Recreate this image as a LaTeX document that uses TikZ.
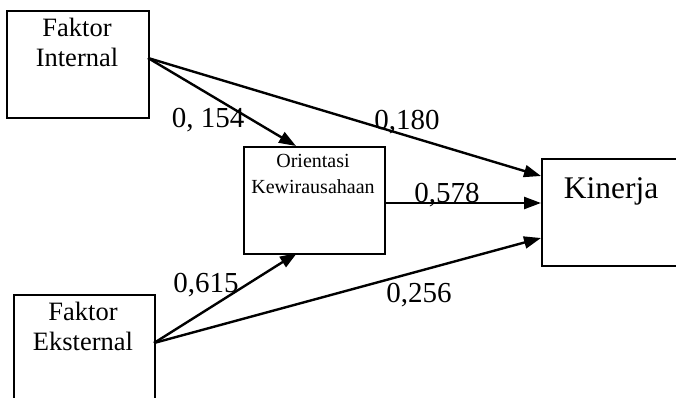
\documentclass[tikz,border=0pt]{standalone}
\usepackage{fontspec}
\setmainfont{Liberation Serif}
\usetikzlibrary{arrows.meta,calc}
\begin{document}
\begin{tikzpicture}[x=1pt,y=-1pt,
  box/.style={draw,line width=1.8pt,rectangle,inner sep=0pt,anchor=north west},
  lbl/.style={anchor=base,inner sep=0pt,font=\fontsize{26.5}{30}\selectfont},
  coef/.style={anchor=base,inner sep=0pt,font=\fontsize{29}{34}\selectfont},
  arr/.style={line width=2.4pt,-{Triangle[length=17pt,width=12pt]}}]
\useasboundingbox (0,0) rectangle (676,398);
% boxes
\node[box,minimum width=142pt,minimum height=107pt] (fi) at (6,10) {};
\node[box,minimum width=141pt,minimum height=107pt] (ok) at (243,146) {};
\node[box,minimum width=200pt,minimum height=107pt] (ki) at (541,158) {};
\node[box,minimum width=141pt,minimum height=120pt] (fe) at (13,294) {};
% box texts
\node[lbl] (fi1) at (77,37) {Faktor};
\node[lbl] (fi2) at (77,67) {Internal};
\node[lbl] (fe1) at (83,320) {Faktor};
\node[lbl] (fe2) at (83,350) {Eksternal};
\node[anchor=base,inner sep=0pt,font=\fontsize{20}{24}\selectfont] (ok1) at (313,167) {Orientasi};
\node[anchor=base,inner sep=0pt,font=\fontsize{20}{24}\selectfont] (ok2) at (313,193) {Kewirausahaan};
\node[anchor=base,inner sep=0pt,font=\fontsize{31.5}{36}\selectfont] (ki1) at (611,198) {Kinerja};
% connector ends
\coordinate (fiout) at (148,58);
\coordinate (feout) at (154,343);
\coordinate (oktop) at (296,146);
\coordinate (okbot) at (297,253);
\coordinate (okout) at (384,203);
\coordinate (kin1) at (541,176);
\coordinate (kin2) at (541,203);
\coordinate (kin3) at (541,238);
% arrows
\draw[arr] (fiout) -- (oktop);
\draw[arr] (fiout) -- (kin1);
\draw[arr] (okout) -- (kin2);
\draw[arr] (feout) -- (okbot);
\draw[arr] (feout) -- (kin3);
% coefficients
\node[coef] (c1) at (208,128) {0, 154};
\node[coef] (c2) at (407,130) {0,180};
\node[coef] (c3) at (447,202) {0,578};
\node[coef] (c4) at (419,302) {0,256};
\node[coef] (c5) at (206,292) {0,615};
\end{tikzpicture}
\end{document}
